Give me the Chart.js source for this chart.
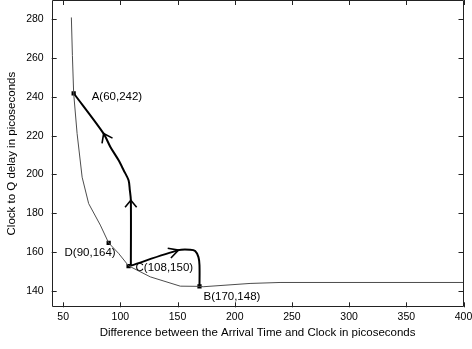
<!DOCTYPE html>
<html>
<head>
<meta charset="utf-8">
<script src="https://cdn.jsdelivr.net/npm/chart.js@4"></script>
<style>
  html, body { margin: 0; padding: 0; background: #fff; }
  #wrap { width: 472px; height: 349px; }
</style>
</head>
<body>
<div id="wrap"><canvas id="chart"></canvas></div>
<script>
// thin curve: clock-to-Q delay vs arrival/clock difference
const curveX = [57.2, 58.1, 59.2, 62.2, 66.6, 72.3, 82.5, 89.8, 98.5, 107.2, 126.2, 152.4, 169.2, 172.4, 213.4, 239.6, 400];
const curveY = [281.0, 261.4, 241.9, 221.1, 198.6, 185.0, 173.9, 164.7, 159.3, 152.9, 147.2, 142.4, 142.3, 142.1, 143.8, 144.3, 144.3];

// thick path from C up to A
const pathCAX = [109.2, 109.2, 108.3, 107.2, 102.9, 98.5, 91.3, 85.4, 59.2];
const pathCAY = [153.0, 186.7, 191.9, 197.0, 202.2, 207.3, 214.2, 221.1, 241.9];

// thick path from C over to B
const pathCBX = [109.2, 150.9, 161.1, 165.4, 168.3, 169.2, 169.2];
const pathCBY = [153.0, 161.0, 161.2, 160.5, 157.4, 153.2, 142.3];

// marked points and their labels
const markX = [59.2, 89.8, 107.2, 169.2];
const markY = [241.9, 164.7, 152.7, 142.3];
const markText = ['A(60,242)', 'D(90,164)', 'C(108,150)', 'B(170,148)'];

const xTicks = [50, 100, 150, 200, 250, 300, 350, 400];
const yTicks = [140, 160, 180, 200, 220, 240, 260, 280];

const toPts = (xs, ys) => xs.map((x, i) => ({ x: x, y: ys[i] }));

const FONT = 'Liberation Sans, Arial, sans-serif';

// label placement relative to its marker (px)
const labelPlace = [
  { align: 'left', dx: 18, dy: 4 },
  { align: 'right', dx: 7, dy: 10 },
  { align: 'left', dx: 7, dy: 1.5 },
  { align: 'left', dx: 4, dy: 10.5 },
];

// arrow heads: dataset index + point index (tip), direction from previous point
const arrows = [
  { ds: 1, idx: 1, len: 9, ang: 40 },
  { ds: 1, idx: 7, len: 10, ang: 36 },
  { ds: 2, idx: 1, len: 11, ang: 28 },
];

// box + inward ticks, matlab style
const boxPlugin = {
  id: 'box',
  afterDatasetsDraw(chart) {
    const { ctx, chartArea: a, scales } = chart;
    ctx.save();
    ctx.strokeStyle = '#222';
    ctx.lineWidth = 1;
    ctx.beginPath();
    ctx.rect(Math.round(a.left) + 0.5, Math.round(a.top) + 0.5,
      Math.round(a.right - a.left) - 1, Math.round(a.bottom - a.top) - 1);
    ctx.stroke();
    const tl = 5;
    ctx.beginPath();
    xTicks.forEach((v) => {
      const px = Math.round(scales.x.getPixelForValue(v)) + 0.5;
      ctx.moveTo(px, a.bottom); ctx.lineTo(px, a.bottom - tl);
      ctx.moveTo(px, a.top); ctx.lineTo(px, a.top + tl);
    });
    yTicks.forEach((v) => {
      const py = Math.round(scales.y.getPixelForValue(v)) + 0.5;
      ctx.moveTo(a.left, py); ctx.lineTo(a.left + tl, py);
      ctx.moveTo(a.right, py); ctx.lineTo(a.right - tl, py);
    });
    ctx.stroke();
    ctx.restore();
  },
};

const arrowPlugin = {
  id: 'arrows',
  afterDatasetsDraw(chart) {
    const { ctx } = chart;
    ctx.save();
    ctx.strokeStyle = '#000';
    ctx.lineWidth = 1.6;
    arrows.forEach((a) => {
      const pts = chart.getDatasetMeta(a.ds).data;
      const tip = pts[a.idx], prev = pts[a.idx - 1];
      const th = Math.atan2(tip.y - prev.y, tip.x - prev.x);
      const r = a.ang * Math.PI / 180;
      ctx.beginPath();
      ctx.moveTo(tip.x - a.len * Math.cos(th - r), tip.y - a.len * Math.sin(th - r));
      ctx.lineTo(tip.x, tip.y);
      ctx.lineTo(tip.x - a.len * Math.cos(th + r), tip.y - a.len * Math.sin(th + r));
      ctx.stroke();
    });
    ctx.restore();
  },
};

const labelPlugin = {
  id: 'pointLabels',
  afterDatasetsDraw(chart) {
    const { ctx } = chart;
    const pts = chart.getDatasetMeta(3).data;
    ctx.save();
    ctx.fillStyle = '#000';
    ctx.font = '11.5px ' + FONT;
    ctx.textBaseline = 'middle';
    markText.forEach((t, i) => {
      const p = labelPlace[i];
      ctx.textAlign = p.align;
      ctx.fillText(t, pts[i].x + p.dx, pts[i].y + p.dy);
    });
    ctx.restore();
  },
};

const config = {
  type: 'scatter',
  data: {
    datasets: [
      {
        data: toPts(curveX, curveY),
        showLine: true,
        borderColor: '#4d4d4d',
        borderWidth: 1,
        pointRadius: 0,
        tension: 0,
      },
      {
        data: toPts(pathCAX, pathCAY),
        showLine: true,
        borderColor: '#000',
        borderWidth: 2,
        pointRadius: 0,
        tension: 0.3,
      },
      {
        data: toPts(pathCBX, pathCBY),
        showLine: true,
        borderColor: '#000',
        borderWidth: 2,
        pointRadius: 0,
        tension: 0.3,
      },
      {
        data: toPts(markX, markY),
        showLine: false,
        pointStyle: 'rect',
        pointRadius: 3,
        backgroundColor: '#000',
        borderColor: '#000',
        borderWidth: 0,
      },
    ],
  },
  options: {
    responsive: true,
    maintainAspectRatio: false,
    animation: false,
    events: [],
    layout: { autoPadding: false, padding: { left: 0, top: 0, right: 8.5, bottom: 0 } },
    plugins: {
      legend: { display: false },
      tooltip: { enabled: false },
    },
    scales: {
      x: {
        type: 'linear',
        min: 40,
        max: 400,
        afterBuildTicks: (s) => { s.ticks = xTicks.map((v) => ({ value: v })); },
        afterFit: (s) => {
          s.height = 41.7;
          s.paddingLeft = 0; s.paddingRight = 0; s.paddingTop = 0; s.paddingBottom = 0;
        },
        grid: { display: false, drawTicks: false },
        border: { display: false },
        ticks: {
          color: '#000',
          padding: 4,
          maxRotation: 0,
          font: { family: FONT, size: 10.5 },
        },
        title: {
          display: true,
          text: 'Difference between the Arrival Time and Clock in picoseconds',
          color: '#000',
          font: { family: FONT, size: 11.5 },
          padding: { top: 2, bottom: 9 },
        },
      },
      y: {
        type: 'linear',
        min: 131.5,
        max: 290,
        afterBuildTicks: (s) => { s.ticks = yTicks.map((v) => ({ value: v })); },
        afterFit: (s) => {
          s.width = 51.7;
          s.paddingLeft = 0; s.paddingRight = 0; s.paddingTop = 0; s.paddingBottom = 0;
        },
        grid: { display: false, drawTicks: false },
        border: { display: false },
        ticks: {
          color: '#000',
          padding: 8,
          font: { family: FONT, size: 10.5 },
        },
        title: {
          display: true,
          text: 'Clock to Q delay in picoseconds',
          color: '#000',
          font: { family: FONT, size: 11.5 },
          padding: { top: 5, bottom: 4 },
        },
      },
    },
  },
  plugins: [boxPlugin, arrowPlugin, labelPlugin],
};

const chart = new Chart(document.getElementById('chart'), config);
</script>
</body>
</html>
